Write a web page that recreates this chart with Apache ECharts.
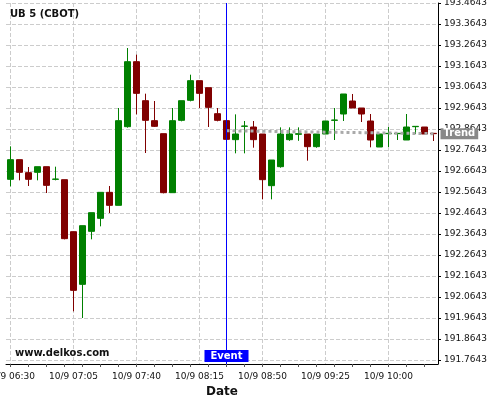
<!DOCTYPE html>
<html>
<head>
<meta charset="utf-8">
<script src="https://cdn.jsdelivr.net/npm/echarts@6/dist/echarts.min.js"></script>
<style>
  html, body { margin: 0; padding: 0; background: #fff; }
  #chart { width: 500px; height: 400px; }
</style>
</head>
<body>
<div id="chart"></div>
<script>
  // 5-minute bars, 10/9
  const times = [
    '10/9 06:30', '10/9 06:35', '10/9 06:40', '10/9 06:45', '10/9 06:50', '10/9 06:55',
    '10/9 07:00', '10/9 07:05', '10/9 07:10', '10/9 07:15', '10/9 07:20', '10/9 07:25',
    '10/9 07:30', '10/9 07:35', '10/9 07:40', '10/9 07:45', '10/9 07:50', '10/9 07:55',
    '10/9 08:00', '10/9 08:05', '10/9 08:10', '10/9 08:15', '10/9 08:20', '10/9 08:25',
    '10/9 08:30', '10/9 08:35', '10/9 08:40', '10/9 08:45', '10/9 08:50', '10/9 08:55',
    '10/9 09:00', '10/9 09:05', '10/9 09:10', '10/9 09:15', '10/9 09:20', '10/9 09:25',
    '10/9 09:30', '10/9 09:35', '10/9 09:40', '10/9 09:45', '10/9 09:50', '10/9 09:55',
    '10/9 10:00', '10/9 10:05', '10/9 10:10', '10/9 10:15', '10/9 10:20', '10/9 10:25'
  ];
  const open = [
    192.6246, 192.7183, 192.6564, 192.6580, 192.6849, 192.6246, 192.6230, 192.3754,
    192.1246, 192.3770, 192.4389, 192.5627, 192.5008, 192.8754, 193.1849, 192.9992,
    192.9040, 192.8421, 192.5611, 192.9056, 193.0008, 193.0945, 193.0611, 192.9373,
    192.9040, 192.8135, 192.8770, 192.8738, 192.8405, 192.5945, 192.6849, 192.8135,
    192.8389, 192.8405, 192.7802, 192.8405, 192.9056, 192.9357, 192.9976, 192.9643,
    192.9024, 192.7786, 192.8421, 192.8421, 192.8119, 192.8754, 192.8738, 192.8437
  ];
  const close = [
    192.7183, 192.6580, 192.6246, 192.6849, 192.5960, 192.6262, 192.3421, 192.0960,
    192.4040, 192.4659, 192.5627, 192.5008, 192.9040, 193.1849, 193.0341, 192.9056,
    192.8770, 192.5611, 192.9040, 192.9992, 193.0945, 193.0341, 192.9675, 192.9056,
    192.8151, 192.8405, 192.8786, 192.8135, 192.6230, 192.7167, 192.8405, 192.8405,
    192.8421, 192.7802, 192.8405, 192.9024, 192.9072, 193.0310, 192.9643, 192.9357,
    192.8119, 192.8405, 192.8437, 192.8437, 192.8738, 192.8770, 192.8405, 192.8421
  ];
  const low = [
    192.5913, 192.6199, 192.5929, 192.6199, 192.5595, 192.6199, 192.3389, 191.9960,
    191.9643, 192.3389, 192.4008, 192.4643, 192.5008, 192.8707, 192.9341, 192.7500,
    192.8740, 192.5580, 192.5611, 192.9008, 192.9960, 192.9643, 192.8738, 192.9008,
    192.8151, 192.7484, 192.7484, 192.7754, 192.5294, 192.5294, 192.6800, 192.8080,
    192.8080, 192.7135, 192.7750, 192.8405, 192.8119, 192.9024, 192.9643, 192.8976,
    192.7770, 192.7786, 192.7786, 192.8119, 192.8119, 192.8405, 192.8405, 192.8072
  ];
  const high = [
    192.7818, 192.7183, 192.6833, 192.6849, 192.6849, 192.6849, 192.6230, 192.3754,
    192.4040, 192.4659, 192.5627, 192.5929, 192.9643, 193.2500, 193.2183, 193.0326,
    192.9976, 192.8421, 192.9643, 192.9992, 193.1230, 193.0945, 193.0611, 192.9643,
    192.9040, 192.9341, 192.9024, 192.9024, 192.8405, 192.7167, 192.8722, 192.8722,
    192.8722, 192.8405, 192.8405, 192.9024, 192.9643, 193.0310, 193.0310, 192.9643,
    192.9357, 192.8405, 192.8738, 192.8437, 192.9357, 192.8770, 192.8738, 192.8437
  ];
  const priceTicks = [
    191.7643, 191.8643, 191.9643, 192.0643, 192.1643, 192.2643, 192.3643, 192.4643, 192.5643,
    192.6643, 192.7643, 192.8643, 192.9643, 193.0643, 193.1643, 193.2643, 193.3643, 193.4643
  ];
  const eventIndex = 24;
  const trendStart = [24, 192.8562];
  const trendEnd = [47, 192.8419];

  const font = 'DejaVu Sans';
  let chartDom = document.getElementById('chart');
  let myChart = echarts.init(chartDom);
  let option;
  option = {
    animation: false,
    backgroundColor: '#fff',
    textStyle: { fontFamily: font },
    title: [
      {
        text: 'UB 5 (CBOT)',
        left: 10, top: 9, padding: 0,
        textStyle: { fontSize: 10, fontWeight: 'bold', color: '#111', fontFamily: font }
      },
      {
        text: 'www.delkos.com',
        left: 15, top: 348, padding: 0,
        textStyle: { fontSize: 10, fontWeight: 'bold', color: '#111', fontFamily: font }
      }
    ],
    grid: { left: 6, right: 62, top: 3, bottom: 36, containLabel: false, outerBoundsMode: 'none' },
    xAxis: {
      type: 'category',
      data: times,
      boundaryGap: true,
      name: 'Date',
      nameLocation: 'middle',
      nameGap: 20,
      nameTextStyle: { fontSize: 12, fontWeight: 'bold', color: '#111', fontFamily: font },
      axisLine: { onZero: false, lineStyle: { color: '#000', width: 1 } },
      axisTick: { show: true, interval: 1, alignWithLabel: true, length: 3, lineStyle: { color: '#555' } },
      axisLabel: { interval: 6, fontSize: 9, color: '#111', margin: 8, fontFamily: font, hideOverlap: false },
      splitLine: {
        show: true, interval: 6, alignWithLabel: true,
        lineStyle: { type: 'dashed', color: '#ccc', width: 1 }
      }
    },
    yAxis: {
      type: 'value',
      position: 'right',
      min: 191.7453,
      max: 193.4643,
      axisLine: { show: true, onZero: false, lineStyle: { color: '#000', width: 1 } },
      axisTick: { show: true, customValues: priceTicks, length: 3, lineStyle: { color: '#000' } },
      axisLabel: {
        customValues: priceTicks, fontSize: 9, color: '#111', margin: 6, fontFamily: font,
        formatter: v => v.toFixed(4)
      },
      splitLine: { show: true, lineStyle: { type: 'dashed', color: '#ccc', width: 1 } }
    },
    series: [
      {
        type: 'candlestick',
        clip: false,
        barWidth: 7,
        data: times.map((t, i) => [open[i], close[i], low[i], high[i]]),
        itemStyle: {
          color: '#008000', color0: '#800000',
          borderColor: '#008000', borderColor0: '#800000', borderWidth: 1
        },
        markLine: {
          silent: true,
          symbol: ['none', 'none'],
          animation: false,
          lineStyle: { type: 'dotted', color: '#aaa', width: 3 },
          data: [
            [
              { coord: trendStart },
              {
                coord: trendEnd,
                label: {
                  show: true, position: 'end', formatter: 'Trend', distance: 7,
                  color: '#fff', fontWeight: 'bold', fontSize: 10, fontFamily: font,
                  backgroundColor: '#888', padding: [1, 3, 0, 3]
                }
              }
            ]
          ]
        }
      },
      {
        name: 'Event',
        type: 'line',
        data: [],
        color: '#0000ff',
        markLine: {
          silent: true,
          symbol: ['none', 'none'],
          animation: false,
          lineStyle: { type: 'solid', color: '#0000ff', width: 1, opacity: 1 },
          label: {
            show: true, position: 'start', formatter: 'Event', distance: 0, offset: [0, -14],
            color: '#fff', fontWeight: 'bold', fontSize: 10, fontFamily: font,
            backgroundColor: '#0000ff', padding: [1, 6, 1, 6]
          },
          data: [{ xAxis: eventIndex }]
        }
      }
    ]
  };
  option && myChart.setOption(option);
</script>
</body>
</html>
